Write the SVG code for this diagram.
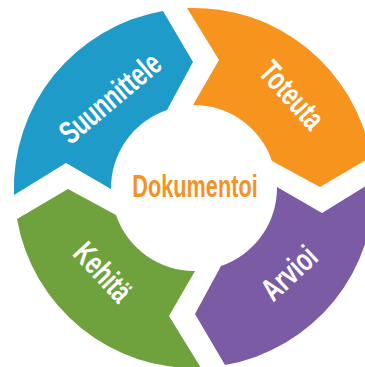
<svg xmlns="http://www.w3.org/2000/svg" xmlns:xlink="http://www.w3.org/1999/xlink" width="365" height="367" viewBox="0 0 365 367">
<style>
.lbl{font-family:"Liberation Sans",Arial,sans-serif;font-weight:bold;font-size:32px;fill:#ffffff;text-anchor:middle}
.center{font-family:"Liberation Sans",Arial,sans-serif;font-weight:bold;font-size:31px;fill:#f39325;text-anchor:middle}
</style>
<defs>
<path id="seg" d="M14,195 A180,180 0 0 1 163,11 L193,62 L167,110 A82.5,82.5 0 0 0 111,189 L66,163 Z"/>
</defs>
<rect width="365" height="367" fill="#ffffff"/>
<g id="connectors"></g>
<g id="suunnittele">
<use xlink:href="#seg" href="#seg" fill="#1e9bc9"/>
<text class="lbl" transform="translate(110,98) rotate(-40) scale(0.7,1)" y="11">Suunnittele</text>
</g>
<g id="toteuta">
<use xlink:href="#seg" href="#seg" fill="#f7941e" transform="rotate(90 194 188)"/>
<text class="lbl" transform="translate(292,95) rotate(48) scale(0.7,1)" y="11">Toteuta</text>
</g>
<g id="arvioi">
<use xlink:href="#seg" href="#seg" fill="#7b5ba4" transform="rotate(180 194 188)"/>
<text class="lbl" transform="translate(289,273) rotate(-43) scale(0.7,1)" y="11">Arvioi</text>
</g>
<g id="kehita">
<use xlink:href="#seg" href="#seg" fill="#6fa13d" transform="rotate(270 194 188)"/>
<text class="lbl" transform="translate(103,272) rotate(47) scale(0.7,1)" y="11">Kehitä</text>
</g>
<g id="dokumentoi">
<text class="center" transform="translate(195,197) scale(0.7,1)">Dokumentoi</text>
</g>
</svg>
